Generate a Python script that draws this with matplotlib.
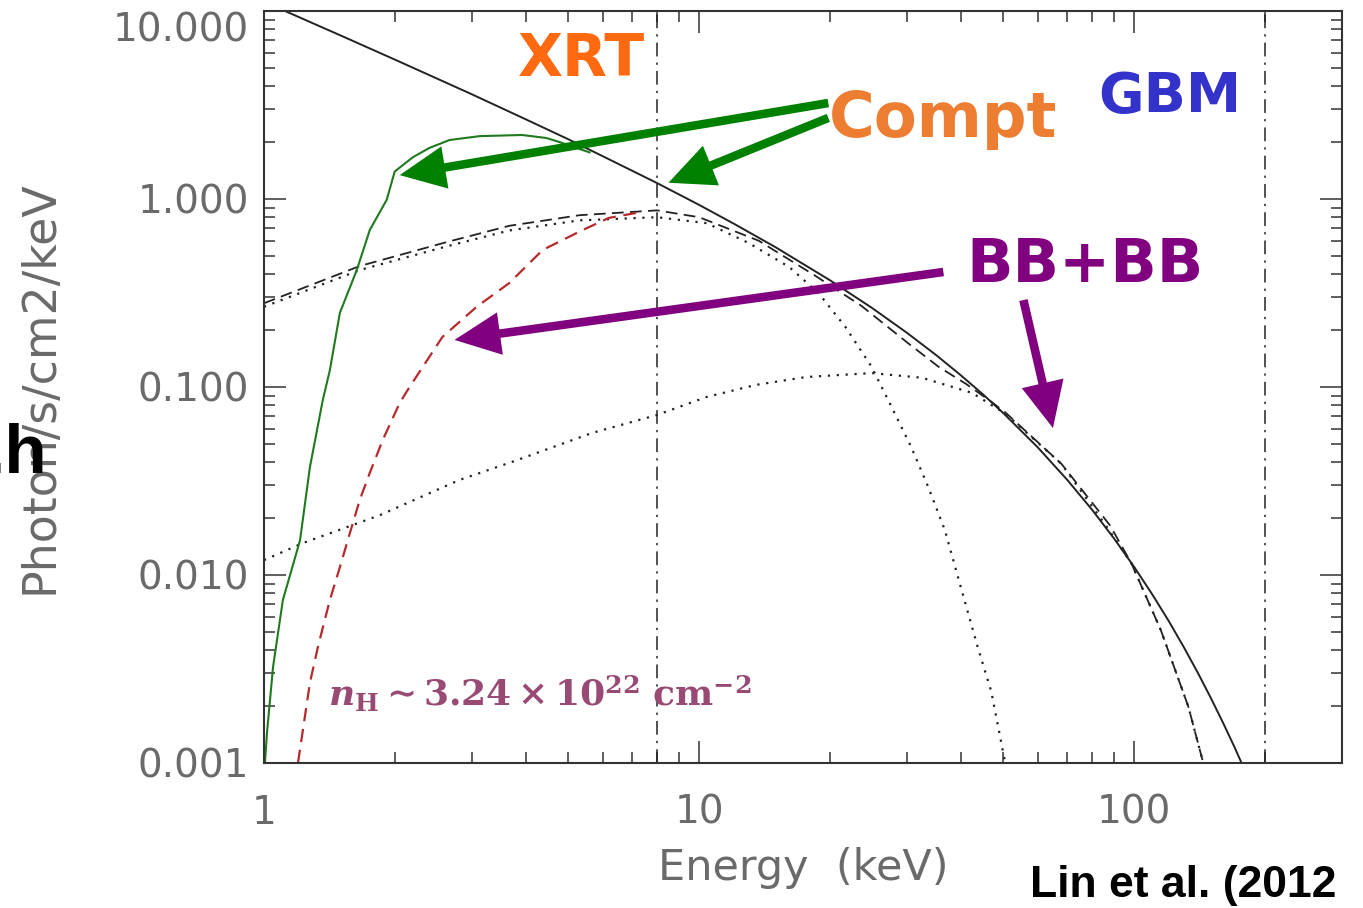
import matplotlib.pyplot as plt
from matplotlib.ticker import LogLocator, NullFormatter

plt.rcParams['mathtext.fontset'] = 'dejavuserif'

# Cut-off power law (Compt) fit, unabsorbed
compt_e = [1, 1.5, 2, 3, 4, 5, 6, 8, 10, 12, 15, 20, 25, 30, 35, 40, 45, 50, 60, 70,
           80, 90, 100, 110, 120, 130, 140, 150, 160, 170, 180]
compt_f = [11.2, 7.41, 5.51, 3.61, 2.65, 2.08, 1.69, 1.216, 0.930, 0.740, 0.553, 0.369,
           0.2626, 0.1944, 0.1481, 0.115, 0.0909, 0.0726, 0.0477, 0.0322, 0.0222,
           0.01553, 0.0110, 0.00787, 0.00568, 0.00412, 0.00301, 0.00221, 0.00163,
           0.00121, 0.000898]

# Compt model with absorption (XRT band)
xrt_e = [1.005, 1.016, 1.049, 1.105, 1.21, 1.275, 1.365, 1.417, 1.494, 1.634,
         1.75, 1.914, 1.997, 2.20, 2.40, 2.67, 3.13, 3.92, 4.46, 4.77, 5.22, 5.60]
xrt_f = [0.001, 0.00145, 0.00324, 0.00736, 0.0153, 0.0375, 0.0853, 0.123, 0.248,
         0.419, 0.684, 0.99, 1.40, 1.67, 1.87, 2.06, 2.16, 2.19, 2.11, 2.01, 1.87, 1.77]

# BB+BB fit: sum of both blackbodies
bbsum_e = [1, 1.66, 2.63, 3.66, 5.31, 8, 10, 13.7, 18.5, 23.6, 30.3, 35.5, 41,
           46.4, 50.6, 68, 88, 98.5, 115, 133, 144]
bbsum_f = [0.279, 0.44, 0.59, 0.72, 0.82, 0.87, 0.80, 0.60, 0.39, 0.27, 0.17,
           0.128, 0.104, 0.085, 0.073, 0.039, 0.0183, 0.0115, 0.0051, 0.0020, 0.001]

# cool blackbody
bb1_e = [1, 1.66, 2.63, 3.66, 5.31, 8, 10.4, 13, 16.1, 18.8, 21.7, 24.9, 27.7,
         30.7, 33.6, 36.7, 40.1, 43.7, 46.9, 50.5]
bb1_f = [0.267, 0.419, 0.56, 0.68, 0.77, 0.80, 0.744, 0.583, 0.435, 0.316, 0.208,
         0.128, 0.078, 0.048, 0.0294, 0.0173, 0.0083, 0.0041, 0.0024, 0.001]

# hot blackbody
bb2_e = [1, 1.23, 1.845, 2.81, 3.72, 5.68, 8, 10.4, 13.5, 17.6, 24.9, 32.5, 42.4,
         50.6, 68, 88, 98.5, 115, 133, 144]
bb2_f = [0.0120, 0.0148, 0.0208, 0.032, 0.040, 0.057, 0.071, 0.0885, 0.1026,
         0.113, 0.1186, 0.112, 0.093, 0.072, 0.039, 0.017, 0.0115, 0.0051, 0.0020, 0.001]

# BB+BB with absorption
bbabs_e = [1.197, 1.275, 1.33, 1.417, 1.494, 1.575, 1.66, 1.75, 1.874, 2.05, 2.16,
           2.57, 3.08, 3.66, 4.37, 5.40, 6.2, 7.16]
bbabs_f = [0.001, 0.00267, 0.00414, 0.00736, 0.0110, 0.0167, 0.0251, 0.0349, 0.0522,
           0.0822, 0.100, 0.1845, 0.267, 0.357, 0.536, 0.684, 0.793, 0.843]

# band edges (keV)
band_edges = [8, 200]

xticks = [1, 10, 100]
xtick_labels = ['1', '10', '100']
yticks = [0.001, 0.01, 0.1, 1, 10]
ytick_labels = ['0.001', '0.010', '0.100', '1.000', '10.000']

W, H = 1363, 908


def fp(x, y):
    return x / W, 1 - y / H


fig = plt.figure(figsize=(W / 100, H / 100), dpi=100)
ax = fig.add_axes([264 / W, 1 - 763 / H, (1342 - 264) / W, (763 - 11) / H])
ax.set_xscale('log')
ax.set_yscale('log')
ax.set_xlim(1, 300)
ax.set_ylim(1e-3, 10)

ink = '#222222'
ax.plot(compt_e, compt_f, color=ink, lw=1.4)
ax.plot(bbsum_e, bbsum_f, color=ink, lw=1.3, linestyle=(0, (6.5, 3.5)))
ax.plot(bb1_e, bb1_f, color=ink, lw=1.6, linestyle=(0, (1, 3)))
ax.plot(bb2_e, bb2_f, color=ink, lw=1.6, linestyle=(0, (1, 3)))
ax.plot(bbabs_e, bbabs_f, color='#b52a2a', lw=1.6, linestyle=(0, (6, 3.5)))
ax.plot(xrt_e, xrt_f, color='#1f7a1f', lw=1.5)
for e in band_edges:
    ax.axvline(e, color=ink, lw=1.1, linestyle=(0, (9, 4, 1.5, 4)))

ax.set_xticks(xticks)
ax.set_xticklabels(xtick_labels)
ax.set_yticks(yticks)
ax.set_yticklabels(ytick_labels)
ax.xaxis.set_minor_locator(LogLocator(subs=range(2, 10)))
ax.yaxis.set_minor_locator(LogLocator(subs=range(2, 10)))
ax.xaxis.set_minor_formatter(NullFormatter())
ax.yaxis.set_minor_formatter(NullFormatter())
ax.tick_params(which='both', direction='in', top=True, right=True,
               color='#333333', width=1.1, labelcolor='#6a6a6a', labelsize=28)
ax.tick_params(which='major', length=16)
ax.tick_params(which='minor', length=8)
ax.tick_params(axis='y', pad=11)
ax.tick_params(axis='x', pad=22)
# keep the top label inside the figure
ax.yaxis.get_major_ticks()[-1].label1.set_verticalalignment('top')
for s in ax.spines.values():
    s.set_color('#333333')
    s.set_linewidth(1.5)

ax.set_xlabel('Energy  (keV)', fontsize=31, color='#6a6a6a', va='top')
ax.xaxis.set_label_coords(0.5, -0.112)
ax.set_ylabel('Photon/s/cm2/keV', fontsize=33, color='#6a6a6a')
ax.yaxis.set_label_coords(-0.187, 0.5)


# arrows pointing at the fitted components
def arrow(tail, tip, color):
    ax.annotate('', xy=tip, xytext=tail, annotation_clip=False,
                arrowprops=dict(arrowstyle='simple,head_length=1.5,head_width=1.4,tail_width=0.28',
                                fc=color, ec='none', lw=0, shrinkA=0, shrinkB=0,
                                mutation_scale=22))


arrow((19.8, 3.24), (2.05, 1.34), '#008000')
arrow((19.8, 2.70), (8.5, 1.22), '#008000')
arrow((36.4, 0.409), (2.74, 0.178), '#800080')
arrow((55.6, 0.290), (65.0, 0.0605), '#800080')

fig.text(*fp(582, 60), 'XRT', fontsize=42, weight='bold', color='#ff6a10',
         ha='center', va='center')
fig.text(*fp(943, 120), 'Compt', fontsize=45, weight='bold', color='#ed7d31',
         ha='center', va='center')
fig.text(*fp(1170, 97), 'GBM', fontsize=40, weight='bold', color='#3333cc',
         ha='center', va='center')
fig.text(*fp(1085, 265), 'BB+BB', fontsize=44, weight='bold', color='#800080',
         ha='center', va='center')
fig.text(*fp(328, 707), r'$\mathbfit{n}_{\mathbf{H}}\mathbf{\sim 3.24\times 10^{22}\ cm^{-2}}$',
         fontsize=26, color='#984a74', ha='left', va='baseline')

fig.text(*fp(47, 473), '.h', fontsize=50, weight='bold', family='Liberation Sans',
         color='black', ha='right', va='baseline')
fig.text(*fp(1030, 897), 'Lin et al. (2012', fontsize=32, weight='bold',
         family='Liberation Sans', color='black', ha='left', va='baseline')

fig.savefig('out.png', dpi=100)
